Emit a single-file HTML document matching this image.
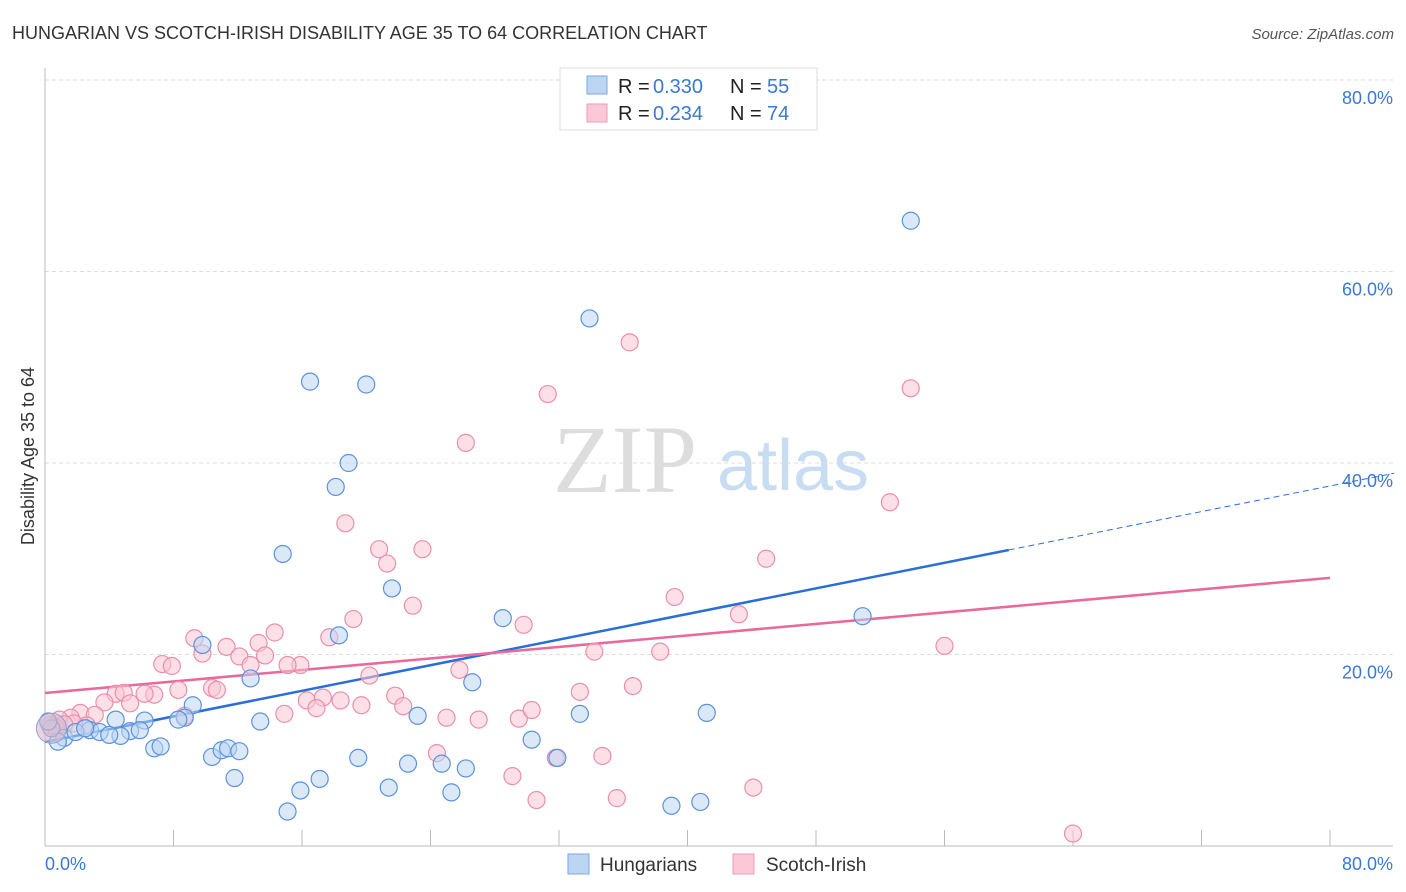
<!DOCTYPE html>
<html><head><meta charset="utf-8"><style>
body{margin:0;background:#fff;font-family:"Liberation Sans",sans-serif;}
svg{display:block}
</style></head><body>
<svg id="chart" width="1406" height="892" font-family="Liberation Sans, sans-serif">
<text x="12" y="39" font-size="18" fill="#333">HUNGARIAN VS SCOTCH-IRISH DISABILITY AGE 35 TO 64 CORRELATION CHART</text>
<text x="1394" y="39" font-size="15" fill="#555" font-style="italic" text-anchor="end">Source: ZipAtlas.com</text>
<g>
<text x="553" y="492" font-size="96" font-family="Liberation Serif, serif" fill="#ddd">ZIP</text>
<text x="717" y="490" font-size="72" fill="#c8dcf2">atlas</text>
</g>
<g id="grid"></g>
<g id="axes"></g>
<g id="trend"></g>
<g id="pts"></g>
<text x="34" y="456" font-size="18" fill="#333" text-anchor="middle" transform="rotate(-90 34 456)">Disability Age 35 to 64</text>
<g>
<rect x="560" y="68" width="257" height="62" fill="#fff" stroke="#ddd"/>
<rect x="587" y="76" width="20" height="18" fill="#bcd5f3" stroke="#7aa8e0"/>
<rect x="587" y="104" width="20" height="18" fill="#fbc8d7" stroke="#ef9ab3"/>
<text y="93" font-size="20" fill="#222"><tspan x="618">R = </tspan><tspan x="653" fill="#3a78d6">0.330</tspan><tspan x="730">N = </tspan><tspan x="767" fill="#3a78d6">55</tspan></text>
<text y="120" font-size="20" fill="#222"><tspan x="618">R = </tspan><tspan x="653" fill="#3a78d6">0.234</tspan><tspan x="730">N = </tspan><tspan x="767" fill="#3a78d6">74</tspan></text>
</g>
<g>
<rect x="568" y="854" width="21" height="20" fill="#bcd5f3" stroke="#7aa8e0"/>
<text x="600" y="871" font-size="19" fill="#333">Hungarians</text>
<rect x="733" y="854" width="21" height="20" fill="#fbc8d7" stroke="#ef9ab3"/>
<text x="766" y="871" font-size="19" fill="#333">Scotch-Irish</text>
</g>
</svg>
<script>
const blueX=[53.9,33.9,16.5,20.0,18.9,18.1,14.8,21.6,28.5,50.9,18.3,9.8,12.8,26.6,9.2,8.7,8.3,6.2,4.4,13.4,23.2,33.3,41.2,5.3,2.8,3.4,4.7,1.2,0.8,0.4,0.2,6.8,7.2,10.4,11.0,11.4,12.1,30.3,31.9,19.5,22.6,24.7,26.2,11.8,17.1,15.9,21.4,25.3,15.1,39.0,40.8,1.9,2.5,4.0,5.9];
const blueY=[65.3,55.1,48.5,48.2,40.0,37.5,30.5,26.9,23.8,24.0,22.0,21.0,17.5,17.1,14.7,13.4,13.2,13.1,13.2,13.0,13.6,13.8,13.9,12.0,12.1,11.9,11.5,11.3,10.9,12.3,13.0,10.2,10.4,9.3,10.0,10.2,9.9,11.1,9.2,9.2,8.6,8.6,8.1,7.1,7.0,5.8,6.1,5.6,3.6,4.2,4.6,11.9,12.3,11.6,12.1];
const pinkX=[53.9,36.4,31.3,26.2,18.7,52.6,20.8,23.5,21.3,44.9,22.9,39.2,19.2,43.2,29.8,17.7,14.3,9.3,13.3,11.3,9.8,12.1,12.8,13.7,7.3,7.9,34.2,38.3,56.0,15.9,15.1,25.8,20.2,36.6,8.3,10.4,10.7,6.8,6.2,4.4,4.9,5.3,33.3,16.3,17.3,18.4,19.7,21.8,22.3,16.9,14.9,3.7,2.2,3.1,1.6,0.9,0.3,0.7,25.0,27.0,29.5,30.3,8.7,24.4,31.8,34.7,29.1,30.6,35.6,44.1,64.0,2.6,1.8,1.2];
const pinkY=[47.8,52.6,47.2,42.1,33.7,35.9,31.0,31.0,29.5,30.0,25.1,26.0,23.7,24.2,23.1,21.8,22.3,21.7,21.2,20.8,20.1,19.8,18.9,19.9,19.0,18.8,20.3,20.3,20.9,18.9,18.9,18.4,17.8,16.7,16.3,16.5,16.3,15.8,15.9,15.9,16.0,14.9,16.1,15.2,15.5,15.2,14.7,15.7,14.6,14.4,13.8,15.0,13.9,13.7,13.4,13.2,12.6,12.3,13.4,13.2,13.3,14.2,13.6,9.7,9.2,9.4,7.3,4.8,5.0,6.1,1.3,12.6,12.8,12.7];
const blueTrend=[10.86,37.6];
const pinkTrend=[15.98,28.0];
const yTicks=[20,40,60,80];
const yTickLabels=["20.0%","40.0%","60.0%","80.0%"];
const xTicks=[0,8,16,24,32,40,48,56,64,72,80];

const NS="http://www.w3.org/2000/svg";
const X0=45,X1=1330,Y0=846,Y1=80;
const sx=v=>X0+(X1-X0)*v/80;
const sy=v=>Y0-(Y0-Y1)*v/80;
function mk(tag,attrs,parent){const e=document.createElementNS(NS,tag);for(const k in attrs)e.setAttribute(k,attrs[k]);parent.appendChild(e);return e;}
const grid=document.getElementById('grid'),axes=document.getElementById('axes'),trend=document.getElementById('trend'),pts=document.getElementById('pts');
yTicks.forEach((t,i)=>{
 const l=mk('line',{x1:X0,x2:1393,y1:sy(t),y2:sy(t),stroke:'#ddd','stroke-dasharray':'4 3'},grid);
 
 
 const tx=mk('text',{x:1393,y:sy(t)+24,'font-size':18,fill:'#3a78d6','text-anchor':'end'},axes);
 tx.textContent=yTickLabels[i];
 
 
});
let a=mk('line',{x1:X0,x2:X0,y1:68,y2:Y0,stroke:'#bbb'},axes);


a=mk('line',{x1:X0,x2:1393,y1:Y0,y2:Y0,stroke:'#bbb'},axes);


xTicks.slice(1).forEach(t=>{
 const l=mk('line',{x1:sx(t),x2:sx(t),y1:Y0,y2:Y0-16,stroke:'#bbb'},axes);
 
 
});
let t=mk('text',{x:45,y:870,'font-size':18,fill:'#3a78d6'},axes);t.textContent="0.0%";


t=mk('text',{x:1393,y:870,'font-size':18,fill:'#3a78d6','text-anchor':'end'},axes);t.textContent="80.0%";



function drawPts(xs,ys,fill,stroke,name){
 xs.forEach((x,i)=>{
  const c=mk('circle',{cx:sx(x),cy:sy(ys[i]),r:8.5,fill:fill,'fill-opacity':0.55,stroke:stroke,'stroke-width':1.2},pts);
  
  
 });
}
drawPts(pinkX,pinkY,'#f9c4d4','#ea8fab','scotch-irish-point');
drawPts(blueX,blueY,'#bcd5f3','#5b93dc','hungarian-point');
let big=mk('circle',{cx:sx(0.4),cy:sy(12.3),r:15,fill:'#d9b8cc','fill-opacity':0.6,stroke:'#8fa6d8'},pts);



const by=x=>blueTrend[0]+(blueTrend[1]-blueTrend[0])*x/80;
const py=x=>pinkTrend[0]+(pinkTrend[1]-pinkTrend[0])*x/80;
let l=mk('line',{x1:sx(0),y1:sy(by(0)),x2:sx(60),y2:sy(by(60)),stroke:'#2a6fd6','stroke-width':2.5},trend);


l=mk('line',{x1:sx(60),y1:sy(by(60)),x2:sx(84),y2:sy(by(84)),stroke:'#2a6fd6','stroke-width':1,'stroke-dasharray':'6 4'},trend);


l=mk('line',{x1:sx(0),y1:sy(py(0)),x2:sx(80),y2:sy(py(80)),stroke:'#e8699a','stroke-width':2.5},trend);


</script>
</body></html>
